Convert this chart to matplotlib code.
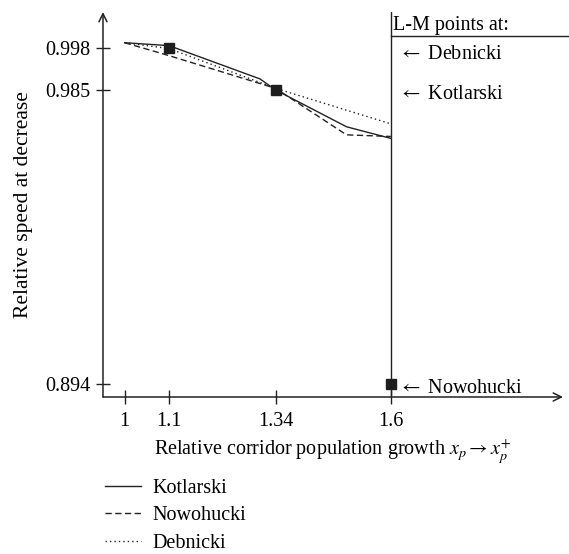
import matplotlib
matplotlib.use("Agg")
import matplotlib.pyplot as plt

plt.rcParams["font.family"] = ["Liberation Serif", "DejaVu Serif"]
plt.rcParams["mathtext.fontset"] = "stix"
plt.rcParams["font.size"] = 14.5

kot_x = [1.0, 1.1, 1.305, 1.34, 1.5, 1.6]
kot_y = [0.9996, 0.9987, 0.9884, 0.9850, 0.9736, 0.9700]
now_x = [1.0, 1.1, 1.34, 1.5, 1.6]
now_y = [0.9996, 0.9956, 0.9855, 0.9711, 0.9706]
deb_x = [1.0, 1.1, 1.34, 1.6]
deb_y = [0.9996, 0.9978, 0.9855, 0.9745]

lm_x = [1.1, 1.34, 1.6]
lm_y = [0.998, 0.985, 0.894]
lm_names = ["Debnicki", "Kotlarski", "Nowohucki"]

xticks = [1, 1.1, 1.34, 1.6]
xtick_labels = ["1", "1.1", "1.34", "1.6"]
yticks = [0.894, 0.985, 0.998]
ytick_labels = ["0.894", "0.985", "0.998"]

fig = plt.figure(figsize=(5.69, 5.54), dpi=100)
ax = fig.add_axes([0.181, 0.2834, 0.8084, 0.6949])
ax.set_xlim(0.951, 1.988)
ax.set_ylim(0.890, 1.0091)

# axes drawn as arrows
for s in ax.spines.values():
    s.set_visible(False)
ax.annotate("", xy=(1, 0), xytext=(0, 0), xycoords="axes fraction",
            arrowprops=dict(arrowstyle="->", lw=1.1, color="#222222",
                            shrinkA=0, shrinkB=0))
ax.annotate("", xy=(0, 1), xytext=(0, 0), xycoords="axes fraction",
            arrowprops=dict(arrowstyle="->", lw=1.1, color="#222222",
                            shrinkA=0, shrinkB=0))

ax.plot(kot_x, kot_y, color="#222222", lw=1.0, label="Kotlarski")
ax.plot(now_x, now_y, color="#222222", lw=1.0, ls=(0, (4.5, 2.5)), label="Nowohucki")
ax.plot(deb_x, deb_y, color="#222222", lw=1.0, ls=(0, (1, 2.2)), label="Debnicki")
ax.plot(lm_x, lm_y, ls="none", marker="s", ms=7, color="#1e1e1e", zorder=5)

# L-M point box
ax.axvline(1.6, color="#222222", lw=1.0)
ax.plot([1.6, 2.0], [1.0017, 1.0017], color="#222222", lw=1.0, clip_on=False)
ax.text(1.6045, 1.0036, "L-M points at:", va="baseline", ha="left")
for name, yb in zip(lm_names, [0.9947, 0.9821, 0.8911]):
    ax.text(1.6180, yb, r"$\leftarrow$" + "\u2009" + name, va="baseline", ha="left")

ax.set_xticks(xticks)
ax.set_xticklabels(xtick_labels)
ax.set_yticks(yticks)
ax.set_yticklabels(ytick_labels)
ax.tick_params(direction="inout", length=10, width=1, color="#222222")
ax.tick_params(axis="x", pad=6)
ax.tick_params(axis="y", pad=4)

ax.set_xlabel(r"Relative corridor population growth $x_p \rightarrow x_p^{+}$")
ax.xaxis.set_label_coords(0.5, -0.106)
ax.set_ylabel("Relative speed at decrease", fontsize=15.5)
ax.yaxis.set_label_coords(-0.152, 0.5)

handles, labels = ax.get_legend_handles_labels()
fig.legend(handles, labels, loc="upper left", bbox_to_anchor=(0.1845, 0.136),
           frameon=False, borderpad=0, borderaxespad=0, handlelength=1.8,
           handletextpad=0.55, labelspacing=0.42)

fig.savefig("out.png", dpi=100)
